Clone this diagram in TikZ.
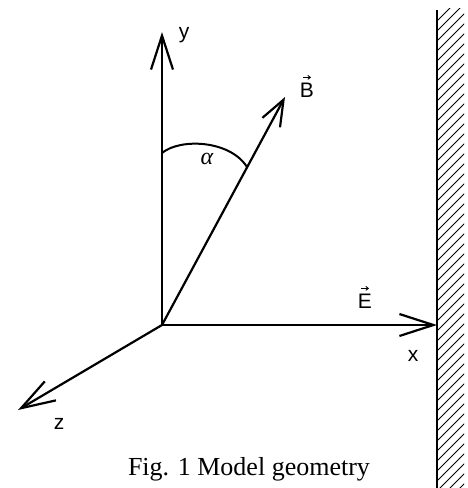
\documentclass[tikz,border=0pt]{standalone}
\usepackage{fontspec}
\setmainfont{Liberation Serif}
\setsansfont{Liberation Sans}
\usetikzlibrary{arrows.meta}
\tikzset{
  axis/.style={line width=2.2pt, -{Straight Barb[length=34pt,width=22pt,line width=2.2pt]}},
  vecarrow/.style={line width=2.2pt, -{Straight Barb[length=26pt,width=20pt,line width=2.2pt]}},
  lbl/.style={font=\sffamily\fontsize{21}{24}\selectfont, inner sep=0pt},
  overarrow/.style={line width=0.9pt, -{Straight Barb[length=2.5pt,width=4pt,line width=0.9pt]}},
  hatch/.style={line width=0.9pt},
}
\begin{document}
\begin{tikzpicture}[x=1pt,y=-1pt]
\useasboundingbox (0,0) rectangle (467,488);
\coordinate (O) at (162,325);
\coordinate (Y) at (162,32);
\coordinate (X) at (437,325);
\coordinate (Z) at (18,410);
\coordinate (B) at (285,97);
\coordinate (A1) at (162,153);
\coordinate (A2) at (247,167);
\coordinate (W1) at (437,10);
\coordinate (W2) at (437,488);
% wall
\draw[line width=2.2pt] (W1) -- (W2);
\begin{scope}
  \clip (438,8) rectangle (464,488);
  \foreach \k in {0,...,50} {
    \draw[hatch] (438,20+\k*10) -- (468,-10+\k*10);
  }
\end{scope}
% axes
\draw[axis] (O) -- (Y);
\draw[axis] (O) -- (X);
\draw[axis] (O) -- (Z);
\draw[vecarrow] (O) -- (B);
% angle arc
\draw[line width=2pt] (A1) .. controls (180,138) and (230,140) .. (A2);
% labels
\node[lbl] (ly) at (184,35) {y};
\node[lbl] (lx) at (413,356) {x};
\node[lbl] (lz) at (59,424) {z};
\node[lbl, anchor=base] (lB) at (307,97) {B};
\draw[overarrow] ([xshift=-4pt,yshift=5pt]lB.north) -- ([xshift=4pt,yshift=5pt]lB.north);
\node[lbl, anchor=base] (lE) at (365,308) {E};
\draw[overarrow] ([xshift=-4pt,yshift=5pt]lE.north) -- ([xshift=4pt,yshift=5pt]lE.north);
\node[inner sep=0pt, font=\itshape\fontsize{24}{26}\selectfont] (lal) at (207,159) {α};
\node[inner sep=0pt, font=\fontsize{26}{30}\selectfont, anchor=base] (cap) at (249,475) {Fig. 1 Model geometry};
\end{tikzpicture}
\end{document}
